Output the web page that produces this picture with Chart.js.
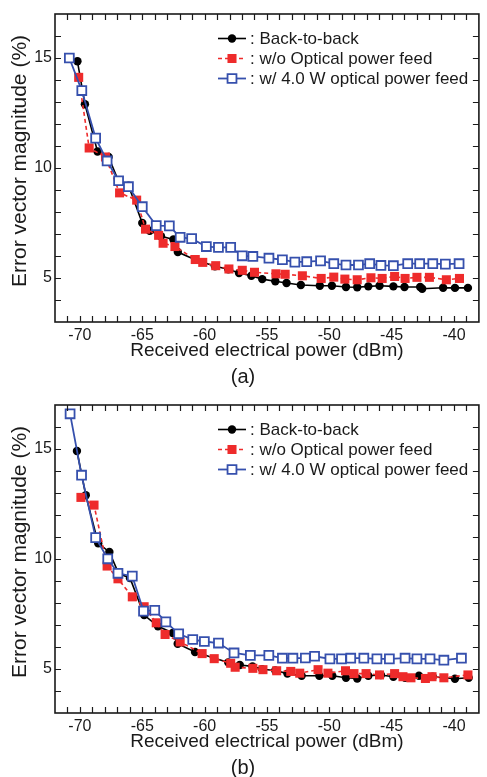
<!DOCTYPE html>
<html>
<head>
<meta charset="utf-8">
<script src="https://cdn.jsdelivr.net/npm/chart.js@4"></script>
<style>
  html, body { margin: 0; padding: 0; background: #fff; overflow: hidden; }
  .panel { position: absolute; left: 0; width: 487px; height: 390px; }
</style>
</head>
<body>
<div class="panel" style="top:0"><canvas id="chart-a" width="487" height="390"></canvas></div>
<div class="panel" style="top:391px"><canvas id="chart-b" width="487" height="390"></canvas></div>
<script>
// Panel (a)
const b2bAx = [-70.2, -69.6, -68.59, -67.7, -66.9, -66.1, -65.0, -64.4, -63.5, -62.5, -62.15, -60.75, -59.17, -58.1, -57.24, -56.25, -55.38, -54.33, -53.43, -52.28, -50.76, -49.79, -48.66, -47.76, -46.87, -45.97, -44.86, -43.97, -42.71, -42.55, -40.87, -39.92, -38.88];
const b2bAy = [14.85, 12.9, 10.75, 10.5, 9.4, 9.2, 7.5, 7.15, 6.9, 6.75, 6.18, 5.83, 5.53, 5.4, 5.23, 5.1, 4.95, 4.85, 4.77, 4.68, 4.65, 4.65, 4.59, 4.58, 4.62, 4.65, 4.62, 4.59, 4.59, 4.51, 4.56, 4.55, 4.55];
const woAx = [-70.1, -69.26, -67.95, -66.82, -65.45, -64.74, -63.69, -63.33, -62.38, -60.75, -60.15, -59.11, -58.05, -56.98, -56.0, -54.28, -53.54, -52.16, -50.65, -49.64, -48.75, -47.76, -46.66, -45.76, -44.76, -43.92, -42.97, -41.97, -40.61, -39.56];
const woAy = [14.12, 10.91, 10.5, 8.87, 8.54, 7.22, 6.94, 6.58, 6.43, 5.84, 5.71, 5.56, 5.41, 5.35, 5.26, 5.19, 5.17, 5.1, 4.98, 5.04, 4.95, 4.92, 5.01, 4.98, 5.07, 4.98, 5.03, 5.03, 4.92, 4.98];
const wAx = [-70.85, -69.85, -68.74, -67.82, -66.9, -66.11, -65.0, -63.88, -62.83, -61.96, -61.04, -59.86, -58.89, -57.91, -56.98, -56.13, -54.84, -53.76, -52.76, -51.81, -50.7, -49.64, -48.66, -47.66, -46.76, -45.86, -44.86, -43.71, -42.75, -41.7, -40.69, -39.59];
const wAy = [15.0, 13.52, 11.36, 10.32, 9.42, 9.15, 8.24, 7.38, 7.37, 6.85, 6.79, 6.43, 6.39, 6.39, 6.01, 5.98, 5.9, 5.83, 5.72, 5.74, 5.78, 5.65, 5.59, 5.59, 5.65, 5.57, 5.56, 5.65, 5.65, 5.65, 5.63, 5.65];

// Panel (b)
const b2bBx = [-70.24, -69.53, -68.53, -67.64, -66.9, -65.98, -64.85, -63.74, -62.56, -62.16, -60.77, -58.1, -57.18, -56.16, -55.38, -54.33, -53.36, -52.22, -50.8, -49.76, -48.66, -47.76, -46.87, -45.86, -44.86, -43.92, -42.81, -41.7, -39.92, -38.82];
const b2bBy = [14.91, 12.9, 10.71, 10.32, 9.35, 9.13, 7.45, 6.94, 6.64, 6.15, 5.77, 5.3, 5.18, 5.12, 4.99, 4.93, 4.79, 4.69, 4.69, 4.69, 4.6, 4.57, 4.69, 4.73, 4.65, 4.6, 4.69, 4.65, 4.56, 4.6];
const woBx = [-69.92, -68.87, -67.82, -66.95, -65.8, -64.85, -63.88, -63.17, -61.96, -60.2, -59.23, -57.91, -57.55, -56.13, -55.32, -54.22, -53.09, -52.37, -50.9, -50.11, -48.7, -48.02, -47.05, -45.97, -44.76, -44.09, -43.45, -42.29, -41.76, -40.81, -38.88];
const woBy = [12.8, 12.45, 9.68, 9.1, 8.28, 7.83, 7.1, 6.57, 6.23, 5.7, 5.47, 5.26, 5.08, 5.03, 4.97, 4.92, 4.89, 4.81, 4.97, 4.81, 4.92, 4.79, 4.79, 4.73, 4.79, 4.65, 4.6, 4.57, 4.65, 4.6, 4.73];
const wBx = [-70.79, -69.87, -68.74, -67.77, -66.95, -65.8, -64.9, -64.0, -63.11, -62.08, -60.95, -60.02, -58.89, -57.64, -56.33, -54.85, -53.76, -52.92, -51.92, -51.18, -49.95, -49.02, -48.28, -47.23, -46.18, -45.18, -43.92, -42.97, -41.92, -40.81, -39.4];
const wBy = [16.6, 13.81, 10.97, 10.01, 9.35, 9.22, 7.63, 7.67, 7.14, 6.6, 6.34, 6.25, 6.18, 5.73, 5.62, 5.62, 5.49, 5.49, 5.5, 5.58, 5.46, 5.46, 5.49, 5.49, 5.46, 5.46, 5.49, 5.46, 5.46, 5.4, 5.49];

const seriesNames = [": Back-to-back", ": w/o Optical power feed", ": w/ 4.0 W optical power feed"];
const xTicks = [-70, -65, -60, -55, -50, -45, -40];
const yTicks = [5, 10, 15];
const xRange = [-72, -38];
const yRange = [3, 17];
const yTitle = "Error vector magnitude (%)";

const FONT = "'Liberation Sans', Arial, sans-serif";
const INK = "#1a1a1a";

function pts(xs, ys) {
    return xs.map((x, i) => ({ x: x, y: ys[i] }));
}

// frame with inward ticks, y title, plus the line+marker legend
const framePlugin = {
    id: "frame",
    afterDraw(chart) {
        const ctx = chart.ctx;
        const a = chart.chartArea;
        const sx = chart.scales.x, sy = chart.scales.y;
        ctx.save();
        ctx.strokeStyle = INK;
        ctx.lineWidth = 1.2;
        ctx.beginPath();
        for (let v = Math.ceil(xRange[0]) + 1; v < xRange[1]; v++) {
            const px = Math.round(sx.getPixelForValue(v)) + 0.5;
            ctx.moveTo(px, a.bottom); ctx.lineTo(px, a.bottom - 6);
            ctx.moveTo(px, a.top); ctx.lineTo(px, a.top + 6);
        }
        for (let v = yRange[0] + 1; v < yRange[1]; v++) {
            const py = Math.round(sy.getPixelForValue(v)) + 0.5;
            ctx.moveTo(a.left, py); ctx.lineTo(a.left + 6, py);
            ctx.moveTo(a.right, py); ctx.lineTo(a.right - 6, py);
        }
        ctx.stroke();
        ctx.lineWidth = 1.6;
        ctx.strokeRect(a.left, a.top, a.right - a.left, a.bottom - a.top);

        // y axis title, sits a bit above the centre like the original
        ctx.save();
        ctx.translate(20, 161);
        ctx.rotate(-Math.PI / 2);
        ctx.font = "21px " + FONT;
        ctx.fillStyle = INK;
        ctx.textAlign = "center";
        ctx.textBaseline = "middle";
        ctx.fillText(yTitle, 0, 0);
        ctx.restore();

        // legend
        ctx.font = "17px " + FONT;
        ctx.textBaseline = "middle";
        ctx.textAlign = "left";
        chart.data.datasets.forEach((ds, i) => {
            const y = 38.5 + i * 20;
            ctx.strokeStyle = ds.borderColor;
            ctx.lineWidth = ds.borderWidth;
            ctx.setLineDash(ds.borderDash || []);
            ctx.beginPath();
            ctx.moveTo(218, y); ctx.lineTo(246, y);
            ctx.stroke();
            ctx.setLineDash([]);
            ctx.fillStyle = ds.pointBackgroundColor;
            ctx.strokeStyle = ds.pointBorderColor;
            ctx.lineWidth = ds.pointBorderWidth;
            ctx.beginPath();
            if (ds.pointStyle === "circle") {
                ctx.arc(232, y, ds.pointRadius, 0, Math.PI * 2);
            } else {
                const s = ds.pointRadius * Math.SQRT1_2;
                ctx.rect(232 - s, y - s, 2 * s, 2 * s);
            }
            ctx.fill();
            if (ds.pointBorderWidth) ctx.stroke();
            ctx.fillStyle = INK;
            ctx.fillText(seriesNames[i], 250, y + 1);
        });
        ctx.restore();
    }
};

function makeChart(canvasId, caption, b2b, wo, w) {
    const cfg = {
        type: "line",
        data: {
            datasets: [
                {
                    label: seriesNames[0], data: b2b, order: 3,
                    borderColor: "#000", borderWidth: 1.6,
                    pointStyle: "circle", pointRadius: 4.2,
                    pointBackgroundColor: "#000", pointBorderColor: "#000", pointBorderWidth: 0
                },
                {
                    label: seriesNames[1], data: wo, order: 2,
                    borderColor: "#ee2b2b", borderWidth: 1.6, borderDash: [4, 3],
                    pointStyle: "rect", pointRadius: 6.4,
                    pointBackgroundColor: "#ee2b2b", pointBorderColor: "#ee2b2b", pointBorderWidth: 0
                },
                {
                    label: seriesNames[2], data: w, order: 1,
                    borderColor: "#3650ad", borderWidth: 1.8,
                    pointStyle: "rect", pointRadius: 6.3,
                    pointBackgroundColor: "#ffffff", pointBorderColor: "#3650ad", pointBorderWidth: 1.8
                }
            ]
        },
        options: {
            responsive: false,
            animation: false,
            devicePixelRatio: 1,
            layout: { padding: { top: 14, right: 1, left: 0, bottom: 1 } },
            plugins: {
                legend: { display: false },
                tooltip: { enabled: false },
                title: {
                    display: true, position: "bottom", text: caption,
                    color: INK, font: { family: FONT, size: 20, weight: "normal" },
                    padding: { top: 0, bottom: 0 }
                }
            },
            scales: {
                x: {
                    type: "linear", min: xRange[0], max: xRange[1],
                    afterBuildTicks: (s) => { s.ticks = xTicks.map((v) => ({ value: v })); },
                    afterFit: (s) => { s.height = 43; },
                    grid: { display: false, drawTicks: false },
                    border: { display: false },
                    ticks: { color: INK, padding: 4, maxRotation: 0, font: { family: FONT, size: 16 } },
                    title: {
                        display: true, text: "Received electrical power (dBm)", color: INK,
                        font: { family: FONT, size: 19 }, padding: { top: 0, bottom: 3 }
                    }
                },
                y: {
                    type: "linear", min: yRange[0], max: yRange[1],
                    afterBuildTicks: (s) => { s.ticks = yTicks.map((v) => ({ value: v })); },
                    afterFit: (s) => { s.width = 55; },
                    grid: { display: false, drawTicks: false },
                    border: { display: false },
                    ticks: { color: INK, padding: 3, font: { family: FONT, size: 16 } }
                }
            }
        },
        plugins: [framePlugin]
    };
    return new Chart(document.getElementById(canvasId), cfg);
}

makeChart("chart-a", "(a)", pts(b2bAx, b2bAy), pts(woAx, woAy), pts(wAx, wAy));
makeChart("chart-b", "(b)", pts(b2bBx, b2bBy), pts(woBx, woBy), pts(wBx, wBy));
</script>
</body>
</html>
